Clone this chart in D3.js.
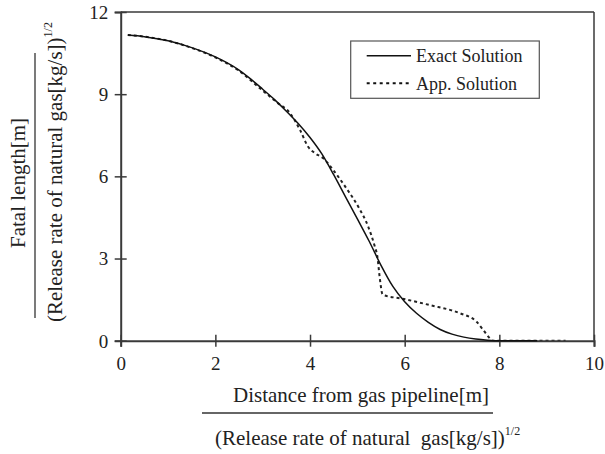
<!DOCTYPE html>
<html><head><meta charset="utf-8">
<script src="https://cdn.jsdelivr.net/npm/d3@7"></script>
<style>body{margin:0;background:#fff;} svg{display:block;} text{font-family:"Liberation Serif","Times New Roman",serif;fill:#222;}</style>
</head><body>
<svg id="c" width="605" height="454"></svg>
<script>
const xTicks = [0, 2, 4, 6, 8, 10];
const yTicks = [0, 3, 6, 9, 12];
const exactX = [0.15, 0.5, 1.0, 1.5, 2.0, 2.5, 2.75, 3.0, 3.25, 3.5, 3.75, 4.0, 4.25, 4.5, 4.75, 5.0, 5.25, 5.5, 5.75, 6.0, 6.25, 6.5, 6.75, 7.0, 7.25, 7.5, 7.75, 8.0, 8.8];
const exactY = [11.16, 11.1, 10.95, 10.7, 10.36, 9.88, 9.55, 9.18, 8.8, 8.38, 7.93, 7.42, 6.82, 6.06, 5.25, 4.45, 3.63, 2.75, 1.98, 1.42, 1.0, 0.67, 0.41, 0.24, 0.13, 0.06, 0.02, 0.0, 0.0];
const appX = [0.15, 0.5, 1.0, 1.5, 2.0, 2.5, 3.0, 3.3, 3.58, 3.79, 3.96, 4.1, 4.28, 4.49, 4.77, 5.02, 5.23, 5.37, 5.42, 5.48, 5.53, 5.6, 5.9, 6.53, 7.17, 7.52, 7.66, 7.8, 7.86, 9.4];
const appY = [11.16, 11.1, 10.95, 10.69, 10.34, 9.85, 9.13, 8.7, 8.3, 7.69, 7.08, 6.85, 6.66, 6.23, 5.56, 4.89, 4.16, 3.43, 3.1, 2.2, 1.7, 1.64, 1.55, 1.3, 1.0, 0.69, 0.39, 0.09, 0.0, 0.0];
const legendLabels = ["Exact Solution", "App. Solution"];

const svg = d3.select("#c");
const x = d3.scaleLinear().domain([0, 10]).range([120.7, 594]);
const y = d3.scaleLinear().domain([0, 12]).range([340.7, 12]);
const axisColor = "#3a3a3a";

// frame top/right
svg.append("line").attr("x1", x(0)).attr("x2", x(10)).attr("y1", y(12)).attr("y2", y(12)).attr("stroke", axisColor).attr("stroke-width", 1.5);
svg.append("line").attr("x1", x(10)).attr("x2", x(10)).attr("y1", y(12)).attr("y2", y(0)).attr("stroke", axisColor).attr("stroke-width", 1.5);

// curves
const line = d3.line().curve(d3.curveMonotoneX);
const exactPts = exactX.map((v, i) => [x(v), y(exactY[i])]);
const appPts = appX.map((v, i) => [x(v), y(appY[i])]);
svg.append("path").attr("d", line(appPts)).attr("fill", "none").attr("stroke", "#222").attr("stroke-width", 2).attr("stroke-dasharray", "3,3");

// axes
const gx = svg.append("g").attr("transform", `translate(0,${y(0)})`)
  .call(d3.axisBottom(x).tickValues(xTicks).tickFormat(d3.format("d")).tickSize(6).tickPadding(0));
gx.select(".domain").attr("stroke", axisColor).attr("stroke-width", 2);
gx.selectAll(".tick line").attr("y1", -6).attr("y2", 6).attr("stroke", axisColor).attr("stroke-width", 1.5);
gx.selectAll(".tick text").attr("y", 29.3).attr("dy", 0).attr("font-size", 19).attr("fill", "#222");

const gy = svg.append("g").attr("transform", `translate(${x(0)},0)`)
  .call(d3.axisLeft(y).tickValues(yTicks).tickFormat(d3.format("d")).tickSize(6).tickPadding(0));
gy.select(".domain").attr("stroke", axisColor).attr("stroke-width", 2);
gy.selectAll(".tick line").attr("x1", -6).attr("x2", 6).attr("stroke", axisColor).attr("stroke-width", 1.5);
gy.selectAll(".tick text").attr("x", -12.5).attr("dy", "0.34em").attr("font-size", 19).attr("fill", "#222");

svg.append("path").attr("d", line(exactPts)).attr("fill", "none").attr("stroke", "#111").attr("stroke-width", 1.5);

// x axis title
svg.append("text").attr("x", 233).attr("y", 402).attr("font-size", 21).text("Distance from gas pipeline[m]");
svg.append("line").attr("x1", 202).attr("x2", 493).attr("y1", 413).attr("y2", 413).attr("stroke", "#333").attr("stroke-width", 1.3);
const t2 = svg.append("text").attr("x", 215).attr("y", 445).attr("font-size", 21);
t2.append("tspan").text("(Release rate of natural\u00a0 gas[kg/s])");
t2.append("tspan").attr("font-size", 12).attr("dy", -10).text("1/2");

// y axis title
svg.append("text").attr("transform", "translate(25,248) rotate(-90)").attr("font-size", 21).text("Fatal length[m]");
svg.append("line").attr("x1", 35).attr("x2", 35).attr("y1", 53).attr("y2", 318).attr("stroke", "#333").attr("stroke-width", 1.3);
const t3 = svg.append("text").attr("transform", "translate(62,322) rotate(-90)").attr("font-size", 21);
t3.append("tspan").text("(Release rate of natural gas[kg/s])");
t3.append("tspan").attr("font-size", 12).attr("dy", -10).text("1/2");

// legend
const lg = svg.append("g");
lg.append("rect").attr("x", 350.7).attr("y", 41).attr("width", 188.6).attr("height", 57.3).attr("fill", "#fff").attr("stroke", "#555").attr("stroke-width", 1.2);
const ly = [55.7, 83.3];
legendLabels.forEach((lab, i) => {
  lg.append("line").attr("x1", 366.7).attr("x2", 411).attr("y1", ly[i]).attr("y2", ly[i])
    .attr("stroke", "#111").attr("stroke-width", i === 0 ? 1.5 : 2).attr("stroke-dasharray", i === 0 ? null : "3,3.5");
  lg.append("text").attr("x", 416).attr("y", ly[i] + 6.5).attr("font-size", 18).text(lab);
});
</script>
</body></html>
